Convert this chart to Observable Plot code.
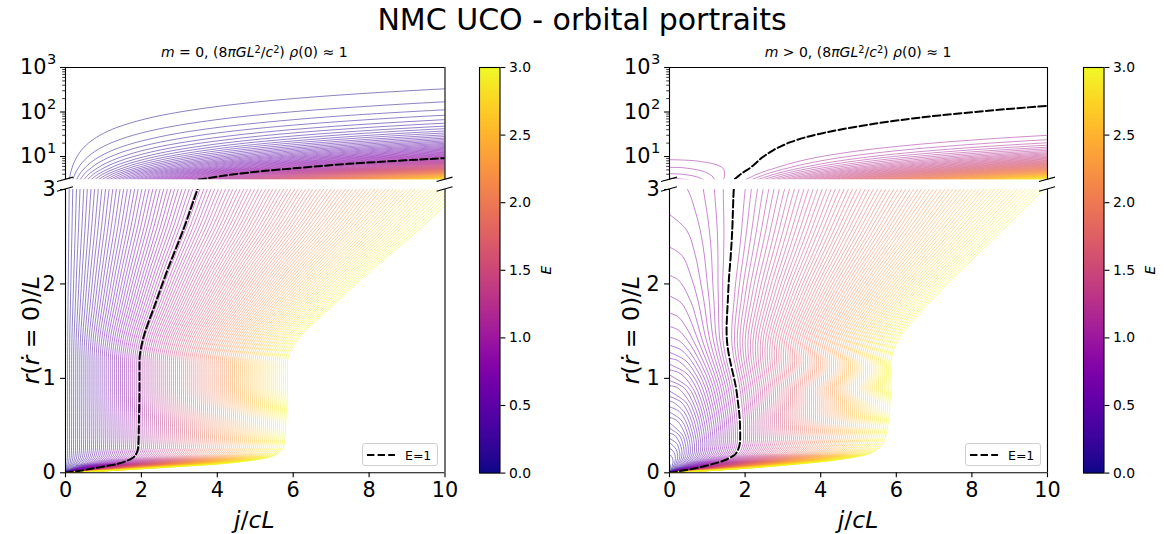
<!DOCTYPE html>
<html><head><meta charset="utf-8">
<script src="https://cdn.jsdelivr.net/npm/d3@7"></script>
<script src="https://cdn.jsdelivr.net/npm/@observablehq/plot@0.6"></script>
<style>
body{margin:0;background:#fff;font-family:"DejaVu Sans",sans-serif;}
#fig{position:relative;width:1164px;height:534px;overflow:hidden;background:#fff}
.t{position:absolute;white-space:nowrap;transform:translate(-50%,-50%);color:#000;line-height:1}
.t sup{font-size:0.7em;vertical-align:0.45em;line-height:0}
.leg{position:absolute;border:1px solid #cfcfcf;border-radius:3px;background:rgba(255,255,255,0.8);font-size:12.5px;box-sizing:border-box}
</style></head><body><div id="fig"></div>
<script>
// ---------- data ----------
// energy values of the plotted family of curves
const energies = [0.028,0.055,0.083,0.110,0.138,0.165,0.193,0.220,0.248,0.275,0.303,0.330,0.358,0.385,0.413,0.440,0.468,0.495,0.523,0.550,
0.578,0.606,0.633,0.661,0.688,0.716,0.743,0.771,0.798,0.826,0.853,0.881,0.908,0.936,0.963,0.991,1.018,1.046,1.073,1.101,
1.128,1.156,1.183,1.211,1.239,1.266,1.294,1.321,1.349,1.376,1.404,1.431,1.459,1.486,1.514,1.541,1.569,1.596,1.624,1.651,
1.679,1.706,1.734,1.761,1.789,1.817,1.844,1.872,1.899,1.927,1.954,1.982,2.009,2.037,2.064,2.092,2.119,2.147,2.174,2.202,
2.229,2.257,2.284,2.312,2.339,2.367,2.394,2.422,2.450,2.477,2.505,2.532,2.560,2.587,2.615,2.642,2.670,2.697,2.725,2.752,
2.780,2.807,2.835,2.862,2.890,2.917,2.945,2.972,3.000];
// energies with no visible curve in the right panel (closest to E = 1)
const rightMissing = [0.991,1.018];
// left panel (m = 0): E = 1 curve, r(rdot=0)/L against j/cL
const leftR = [0,0.02,0.042,0.07,0.095,0.12,0.148,0.18,0.236,0.3,0.41,0.55,0.73,0.9,1.05,1.15,1.226,1.3,1.47,1.76,2.15,2.6,3.0,3.5,4.0,4.7,5.6,6.5,7.3,8.2,9.2,12,15,20,30,45,70,100,150,220,340,500,800,1200];
const leftJ = [0,0.35,0.67,1.05,1.37,1.57,1.73,1.83,1.90,1.92,1.93,1.935,1.945,1.95,1.95,1.95,1.955,1.98,2.08,2.34,2.69,3.13,3.48,3.98,4.45,5.2,6.2,7.1,7.96,8.95,10,13,16.2,21.6,32.3,48.4,75.2,107.5,161,236,365,537,860,1290];
// right panel (m > 0): E = 1 curve
const rightR = [0,0.03,0.06,0.1,0.13,0.17,0.2,0.25,0.31,0.4,0.55,0.65,0.75,0.9,1.05,1.19,1.3,1.4,1.51,1.65,1.8,2.04,2.3,2.57,2.8,3.0,3.5,4.0,4.7,5.6,6.7,8,9.5,11.3,14,17,21,27,33,40,55,70,84,110,137,200];
const rightJ = [0,0.45,0.82,1.2,1.44,1.65,1.75,1.82,1.86,1.87,1.86,1.84,1.81,1.76,1.68,1.60,1.55,1.52,1.51,1.52,1.54,1.57,1.62,1.66,1.68,1.70,1.8,1.88,2.0,2.14,2.25,2.35,2.45,2.58,2.75,2.95,3.2,3.6,4.02,4.5,5.45,6.35,7.15,8.6,10,13.2];
const xTicks = [0,2,4,6,8,10];
const lowerTicks = [0,1,2,3];
const upperTicks = [10,100,1000];
const upperMinor = [4,5,6,7,8,9,20,30,40,50,60,70,80,90,200,300,400,500,600,700,800,900];
const cbarTicks = [0,0.5,1,1.5,2,2.5,3];
const legendLabel = "E=1";

// ---------- layout ----------
const FONT = '"DejaVu Sans", sans-serif';
const fig = document.getElementById("fig");
const panels = [{x0:64.5,x1:444,cb:479,name:"left"},{x0:669,x1:1047,cb:1083,name:"right"}];
const UP = {y0:66.7,y1:179}, LO = {y0:189,y1:472.3};
const color = {type:"linear", scheme:"plasma", domain:[0,3]};

function place(node,left,top){node.style.position="absolute";node.style.left=left+"px";node.style.top=top+"px";fig.appendChild(node);}
function text(html,x,y,size,extra=""){const d=document.createElement("div");d.className="t";d.innerHTML=html;d.style.left=x+"px";d.style.top=y+"px";d.style.fontSize=size+"px";if(extra)d.style.transform="translate(-50%,-50%) "+extra;fig.appendChild(d);}

// curve families
function leftFamily(){const pts=[];energies.forEach((E,k)=>leftR.forEach((r,i)=>pts.push({k,E,j:E*leftJ[i],r})));return pts;}
function rightFamily(){const pts=[];energies.forEach((E,k)=>{
  if(rightMissing.includes(E))return;
  const h=rightR.map((r,i)=>E*E*(r*r+rightJ[i]*rightJ[i])-r*r);const c=[];
  for(let i=0;i<rightR.length;i++){
    if(h[i]>=0)c.push({k,E,j:Math.sqrt(h[i]),r:rightR[i]});
    else{if(i>0&&h[i-1]>=0){const t=h[i-1]/(h[i-1]-h[i]);c.push({k,E,j:0,r:rightR[i-1]+t*(rightR[i]-rightR[i-1])});}break;}
  }
  if(c.length>2)pts.push(...c);});return pts;}
const fam = {left:leftFamily(), right:rightFamily()};
const dashed = {left:leftR.map((r,i)=>({j:leftJ[i],r})), right:rightR.map((r,i)=>({j:rightJ[i],r}))};

function breakMark(yv){return (index,scales)=>{const g=d3.create("svg:g").attr("stroke","black").attr("stroke-width",1.1);
  for(const xv of [0,10]){const x=scales.x(xv),y=scales.y(yv);g.append("line").attr("x1",x-8).attr("y1",y+2.2).attr("x2",x+8).attr("y2",y-2.2);}return g.node();};}

const lineOpts = {x:"j",y:"r",z:"k",stroke:"E",strokeWidth:1,strokeOpacity:0.5,curve:"catmull-rom",clip:true};
const dashOpts = {x:"j",y:"r",stroke:"black",strokeWidth:2,strokeDasharray:"7.4,3.2",curve:"catmull-rom",clip:true};
const spine = {stroke:"black",strokeWidth:1.1};

for(const p of panels){
  const W=p.x1-p.x0;
  // upper (log) part
  {const mL=70,mR=14,mT=12,mB=12;
   const svg=Plot.plot({width:mL+W+mR,height:mT+(UP.y1-UP.y0)+mB,marginLeft:mL,marginRight:mR,marginTop:mT,marginBottom:mB,
    x:{domain:[0,10],axis:null},y:{type:"log",domain:[3,1000],axis:null},color,
    style:{fontFamily:FONT,fontSize:"20.8px",color:"black",background:"transparent",overflow:"visible"},
    marks:[
      Plot.line(fam[p.name].filter(d=>d.r>=2),lineOpts),
      Plot.line(dashed[p.name].filter(d=>d.r>=2),dashOpts),
      Plot.ruleX([0,10],spine),Plot.ruleY([1000],spine),
      Plot.axisY({ticks:upperMinor,tickSize:2.8,tickFormat:()=>"",strokeWidth:0.8,label:null}),
      Plot.axisY({ticks:upperTicks,tickSize:4.9,strokeWidth:1.1,label:null,tickFormat:()=>""}),
      Plot.text(upperTicks,{y:d=>d,frameAnchor:"left",dx:-19,text:()=>"10",textAnchor:"end",fontSize:20.8}),
      Plot.text(upperTicks,{y:d=>d,frameAnchor:"left",dx:-18.5,dy:-8,text:d=>String(Math.round(Math.log10(d))),textAnchor:"start",fontSize:14.6}),
      breakMark(3)
    ]});
   place(svg,p.x0-mL,UP.y0-mT);}
  // lower (linear) part
  {const mL=70,mR=14,mT=12,mB=45;
   const svg=Plot.plot({width:mL+W+mR,height:mT+(LO.y1-LO.y0)+mB,marginLeft:mL,marginRight:mR,marginTop:mT,marginBottom:mB,
    x:{domain:[0,10]},y:{domain:[0,3]},color,
    style:{fontFamily:FONT,fontSize:"20.8px",color:"black",background:"transparent",overflow:"visible"},
    marks:[
      Plot.line(fam[p.name].filter(d=>d.r<=6),lineOpts),
      Plot.line(dashed[p.name].filter(d=>d.r<=6),dashOpts),
      Plot.ruleX([0,10],spine),Plot.ruleY([0],spine),
      Plot.axisX({ticks:xTicks,tickSize:4.9,tickPadding:4.9,strokeWidth:1.1,label:null,tickFormat:d=>String(d)}),
      Plot.axisY({ticks:lowerTicks,tickSize:4.9,tickPadding:4.9,strokeWidth:1.1,label:null,tickFormat:d=>String(d)}),
      breakMark(3)
    ]});
   place(svg,p.x0-mL,LO.y0-mT);}
  // colorbar
  {const mL=5,mR=45,mT=10,mB=10,cw=20.5,ch=LO.y1-UP.y0;
   const svg=Plot.plot({width:mL+cw+mR,height:mT+ch+mB,marginLeft:mL,marginRight:mR,marginTop:mT,marginBottom:mB,
    x:{domain:[0,1],axis:null},y:{domain:[0,3]},color,
    style:{fontFamily:FONT,fontSize:"13.9px",color:"black",background:"transparent",overflow:"visible"},
    marks:[
      Plot.raster({x1:0,x2:1,y1:0,y2:3,fill:(x,y)=>y}),
      Plot.frame({stroke:"black",strokeWidth:1.1}),
      Plot.axisY({anchor:"right",ticks:cbarTicks,tickSize:4.9,tickPadding:4,strokeWidth:1.1,label:null,tickFormat:d3.format(".1f")})
    ]});
   place(svg,p.cb-mL,UP.y0-mT);}
  // legend
  {const lg=document.createElement("div");lg.className="leg";
   lg.style.left=(p.x1-82)+"px";lg.style.top="443px";lg.style.width="76px";lg.style.height="23px";
   lg.innerHTML='<svg width="34" height="21" style="position:absolute;left:4px;top:0"><line x1="0" x2="28" y1="11" y2="11" stroke="black" stroke-width="2" stroke-dasharray="7.4,3.2"/></svg><span style="position:absolute;left:42px;top:3.5px">'+legendLabel+'</span>';
   fig.appendChild(lg);}
  const cx=(p.x0+p.x1)/2;
  text((p.name==="left"?'<i>m</i> = 0, ':'<i>m</i> &gt; 0, ')+'(8<i>πGL</i><sup>2</sup>/<i>c</i><sup>2</sup>) <i>ρ</i>(0) ≈ 1',cx,52,14);
  text('<i>j</i>/<i>cL</i>',cx,521,23.5);
  text('<i>r</i>(<i>ṙ</i> = 0)/<i>L</i>',p.name==="left"?31.5:632,330,23.5,"rotate(-90deg)");
  text('<i>E</i>',p.cb+67,270,14,"rotate(-90deg)");
}
text("NMC UCO - orbital portraits",582,20,30);
</script></body></html>
